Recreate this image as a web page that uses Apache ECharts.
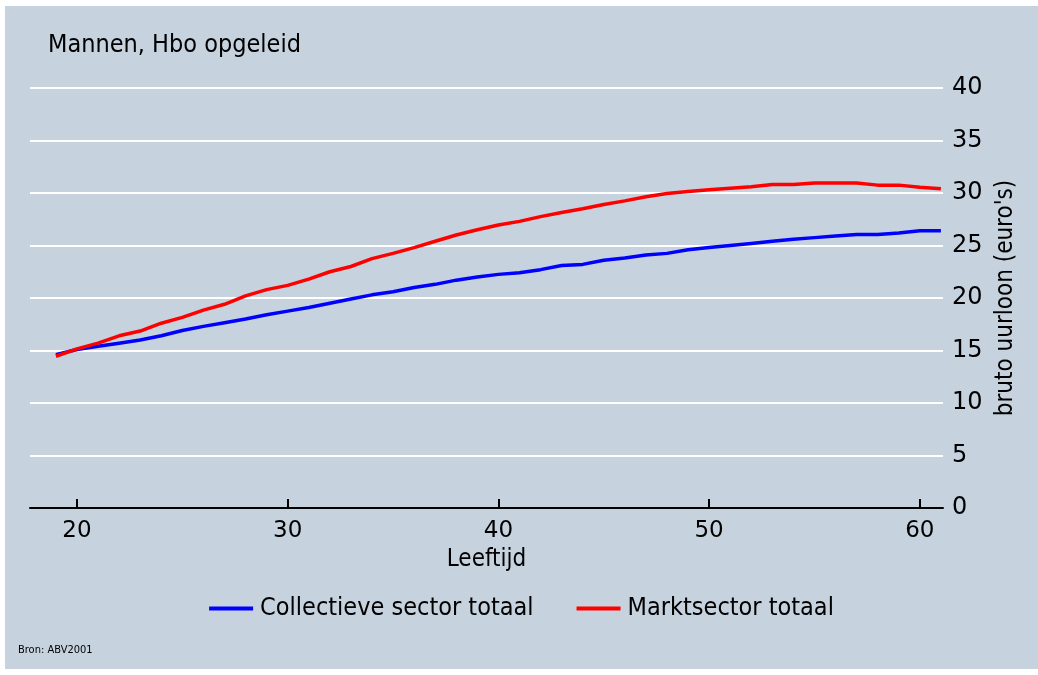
<!DOCTYPE html>
<html>
<head>
<meta charset="utf-8">
<script src="https://cdn.jsdelivr.net/npm/echarts@6/dist/echarts.min.js"></script>
<style>
  html, body { margin: 0; padding: 0; background: #ffffff; }
  #chart { position: absolute; left: 5px; top: 6px; width: 1033px; height: 663px; }
</style>
</head>
<body>
<div id="chart"></div>
<script>
// Leeftijd (jaren)
const ages = [19,20,21,22,23,24,25,26,27,28,29,30,31,32,33,34,35,36,37,38,39,40,
              41,42,43,44,45,46,47,48,49,50,51,52,53,54,55,56,57,58,59,60,61];
// Bruto uurloon, collectieve sector
const collectief = [14.6,15.1,15.4,15.7,16.0,16.4,16.9,17.3,17.65,18.0,18.4,18.75,
                    19.1,19.5,19.9,20.3,20.6,21.0,21.3,21.7,22.0,22.25,
                    22.4,22.7,23.1,23.2,23.6,23.8,24.1,24.25,24.6,24.8,
                    25.0,25.2,25.4,25.6,25.75,25.9,26.05,26.05,26.2,26.4,26.4];
// Bruto uurloon, marktsector
const markt = [14.45,15.15,15.7,16.4,16.85,17.6,18.15,18.85,19.4,20.2,20.8,21.2,
               21.8,22.5,23.0,23.75,24.25,24.8,25.4,26.0,26.5,26.95,
               27.3,27.75,28.15,28.5,28.9,29.25,29.65,29.95,30.15,30.3,
               30.45,30.6,30.8,30.8,30.95,30.95,30.95,30.75,30.75,30.55,30.4];
const xTicks = [20, 30, 40, 50, 60];

const pair = (ys) => ages.map((a, i) => [a, ys[i]]);
const cond = '"DejaVu Sans Condensed", "DejaVu Sans", sans-serif';

const chart = echarts.init(document.getElementById('chart'));
chart.setOption({
  backgroundColor: '#c6d2de',
  animation: false,
  title: {
    text: 'Mannen, Hbo opgeleid',
    left: 38, top: 22,
    textStyle: { fontFamily: cond, fontSize: 25, fontWeight: 'normal', color: '#000' }
  },
  graphic: [{
    type: 'text', left: 13, top: 639,
    style: { text: 'Bron: ABV2001', fontFamily: cond, fontSize: 11, fill: '#000' }
  }],
  legend: {
    top: 585, left: 'center',
    icon: 'rect', itemWidth: 44, itemHeight: 4, itemGap: 43,
    textStyle: { fontFamily: cond, fontSize: 25, color: '#000', padding: [0, 0, 0, 2] },
    data: ['Collectieve sector totaal', 'Marktsector totaal']
  },
  grid: { left: 25, right: 95, top: 82, bottom: 161 },
  xAxis: {
    type: 'value', min: 17.77, max: 61.1,
    name: 'Leeftijd', nameLocation: 'middle', nameGap: 36,
    nameTextStyle: { fontFamily: cond, fontSize: 24, color: '#000' },
    axisLine: { show: true, onZero: false, lineStyle: { color: '#000', width: 2 } },
    axisTick: { show: true, inside: true, length: 9, customValues: xTicks,
                lineStyle: { color: '#000', width: 2 } },
    axisLabel: { customValues: xTicks, margin: 12,
                 fontFamily: '"DejaVu Sans", sans-serif', fontSize: 23, color: '#000' },
    splitLine: { show: false }
  },
  yAxis: {
    type: 'value', position: 'right', min: 0, max: 40, interval: 5,
    name: "bruto uurloon (euro's)", nameLocation: 'middle', nameRotate: 90, nameGap: 48,
    nameTextStyle: { fontFamily: cond, fontSize: 24, color: '#000' },
    axisLine: { show: false },
    axisTick: { show: false },
    axisLabel: { margin: 9, fontFamily: '"DejaVu Sans", sans-serif', fontSize: 24, color: '#000' },
    splitLine: { show: true, lineStyle: { color: '#ffffff', width: 2 } }
  },
  series: [
    {
      name: 'Collectieve sector totaal', type: 'line', data: pair(collectief),
      showSymbol: false, symbol: 'none', color: '#0000ff',
      lineStyle: { color: '#0000ff', width: 3.5 }
    },
    {
      name: 'Marktsector totaal', type: 'line', data: pair(markt),
      showSymbol: false, symbol: 'none', color: '#ff0000',
      lineStyle: { color: '#ff0000', width: 3.5 }
    }
  ]
});
</script>
</body>
</html>
